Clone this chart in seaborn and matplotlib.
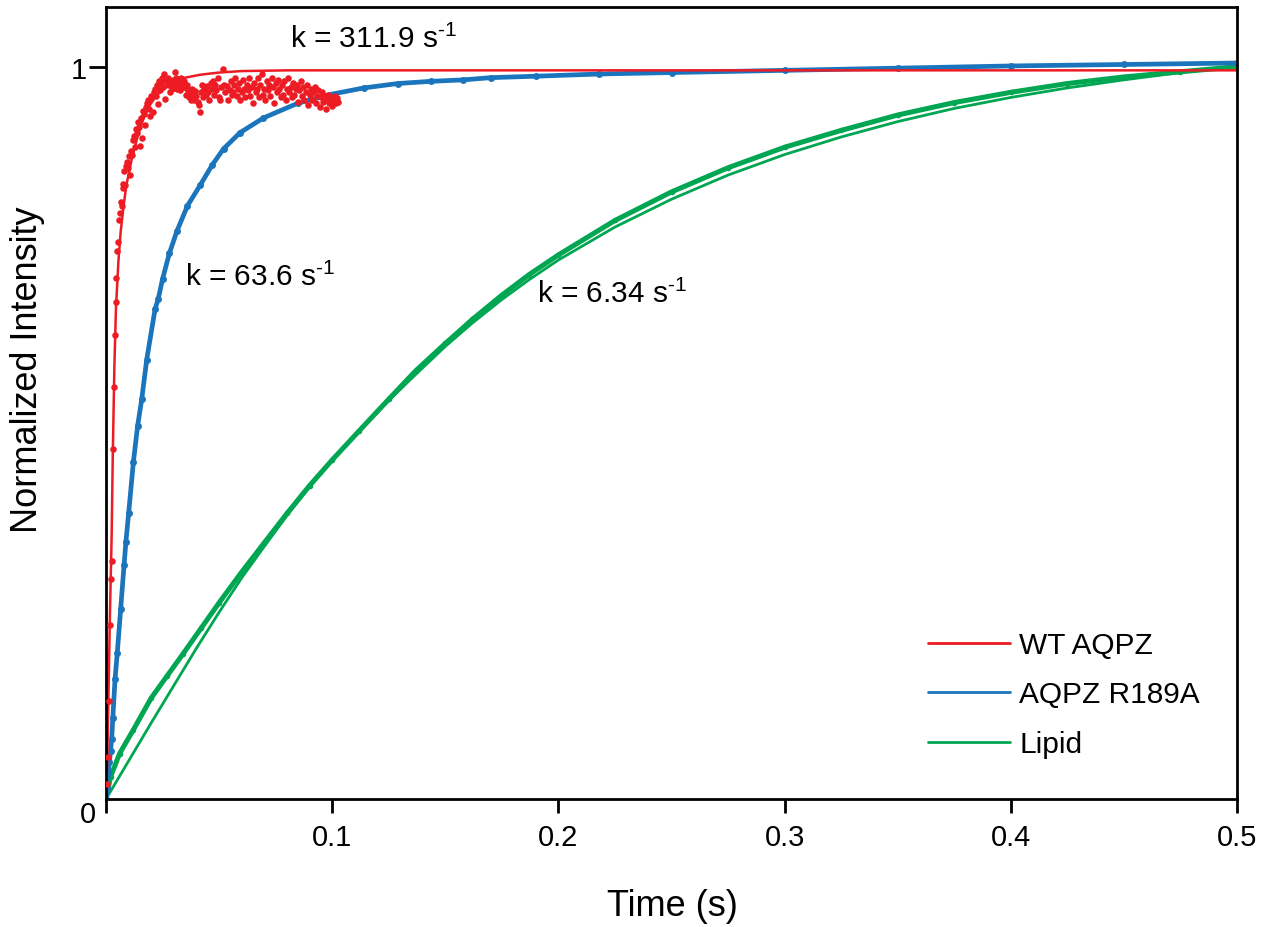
import matplotlib
matplotlib.use("Agg")
import matplotlib.pyplot as plt
from matplotlib.lines import Line2D
import numpy as np
import pandas as pd
import seaborn as sns

# ---------------- data ----------------
red_t = [0.0004, 0.0009, 0.0013, 0.0018, 0.0022, 0.0025, 0.0030, 0.0034, 0.0038, 0.0042,
         0.0045, 0.0050, 0.0054, 0.0058, 0.0062, 0.0066, 0.0069, 0.0073, 0.0077, 0.0080,
         0.0084, 0.0088, 0.0092, 0.0096, 0.0100, 0.0106, 0.0110, 0.0114, 0.0118, 0.0123,
         0.0128, 0.0132, 0.0137, 0.0141, 0.0146, 0.0150, 0.0154, 0.0158, 0.0163, 0.0167,
         0.0172, 0.0176, 0.0181, 0.0185, 0.0190, 0.0195, 0.0199, 0.0204, 0.0208, 0.0213,
         0.0217, 0.0222, 0.0226, 0.0230, 0.0235, 0.0240, 0.0244, 0.0249, 0.0253, 0.0258,
         0.0263, 0.0267, 0.0272, 0.0276, 0.0281, 0.0285, 0.0290, 0.0295, 0.0300, 0.0305,
         0.0310, 0.0314, 0.0318, 0.0323, 0.0328, 0.0333, 0.0337, 0.0342, 0.0347, 0.0352,
         0.0356, 0.0360, 0.0365, 0.0370, 0.0375, 0.0380, 0.0385, 0.0390, 0.0395, 0.0400,
         0.0405, 0.0410, 0.0415, 0.0420, 0.0425, 0.0430, 0.0435, 0.0440, 0.0447, 0.0452,
         0.0457, 0.0462, 0.0467, 0.0473, 0.0478, 0.0483, 0.0488, 0.0493, 0.0498, 0.0504,
         0.0510, 0.0517, 0.0522, 0.0528, 0.0535, 0.0540, 0.0546, 0.0552, 0.0556, 0.0561,
         0.0566, 0.0572, 0.0578, 0.0583, 0.0588, 0.0594, 0.0600, 0.0605, 0.0610, 0.0616,
         0.0622, 0.0628, 0.0633, 0.0638, 0.0644, 0.0650, 0.0655, 0.0661, 0.0666, 0.0672,
         0.0678, 0.0683, 0.0688, 0.0694, 0.0700, 0.0705, 0.0711, 0.0716, 0.0722, 0.0727,
         0.0733, 0.0738, 0.0744, 0.0750, 0.0755, 0.0761, 0.0766, 0.0772, 0.0777, 0.0783,
         0.0788, 0.0794, 0.0800, 0.0805, 0.0811, 0.0816, 0.0822, 0.0827, 0.0833, 0.0838,
         0.0844, 0.0850, 0.0855, 0.0861, 0.0866, 0.0872, 0.0877, 0.0883, 0.0888, 0.0894,
         0.0900, 0.0905, 0.0911, 0.0916, 0.0922, 0.0927, 0.0933, 0.0938, 0.0944, 0.0950,
         0.0955, 0.0961, 0.0966, 0.0972, 0.0977, 0.0983, 0.0988, 0.0994, 0.1000, 0.1005,
         0.1011, 0.1016, 0.1022, 0.1027]
red_v = [0.020, 0.057, 0.134, 0.237, 0.300, 0.325, 0.478, 0.563, 0.634, 0.679,
         0.712, 0.748, 0.760, 0.790, 0.800, 0.815, 0.810, 0.835, 0.840, 0.857,
         0.838, 0.865, 0.870, 0.862, 0.878, 0.852, 0.885, 0.879, 0.900, 0.905,
         0.891, 0.915, 0.910, 0.925, 0.918, 0.892, 0.930, 0.902, 0.940, 0.935,
         0.920, 0.945, 0.950, 0.955, 0.942, 0.932, 0.960, 0.958, 0.938, 0.965,
         0.970, 0.960, 0.975, 0.949, 0.980, 0.968, 0.978, 0.985, 0.972, 0.990,
         0.956, 0.980, 0.975, 0.985, 0.966, 0.978, 0.970, 0.982, 0.975, 0.993,
         0.985, 0.970, 0.981, 0.975, 0.968, 0.985, 0.977, 0.972, 0.980, 0.962,
         0.975, 0.970, 0.958, 0.965, 0.955, 0.970, 0.960, 0.954, 0.967, 0.960,
         0.952, 0.948, 0.938, 0.965, 0.975, 0.958, 0.970, 0.962, 0.973, 0.965,
         0.955, 0.978, 0.970, 0.981, 0.962, 0.975, 0.968, 0.985, 0.958, 0.954,
         0.972, 0.997, 0.975, 0.965, 0.974, 0.955, 0.968, 0.980, 0.962, 0.966,
         0.975, 0.985, 0.960, 0.970, 0.978, 0.955, 0.965, 0.982, 0.970, 0.958,
         0.975, 0.968, 0.985, 0.960, 0.972, 0.950, 0.978, 0.965, 0.970, 0.985,
         0.958, 0.975, 0.990, 0.962, 0.970, 0.955, 0.980, 0.968, 0.975, 0.960,
         0.985, 0.972, 0.950, 0.978, 0.965, 0.982, 0.970, 0.958, 0.975, 0.962,
         0.980, 0.955, 0.970, 0.985, 0.965, 0.972, 0.958, 0.978, 0.962, 0.970,
         0.975, 0.952, 0.968, 0.980, 0.960, 0.972, 0.955, 0.965, 0.975, 0.948,
         0.962, 0.970, 0.955, 0.965, 0.972, 0.950, 0.960, 0.968, 0.945, 0.958,
         0.965, 0.952, 0.960, 0.942, 0.955, 0.962, 0.950, 0.958, 0.946, 0.955,
         0.960, 0.950, 0.957, 0.952]

red_fit_t = [0.0, 0.0006, 0.0012, 0.0018, 0.0025, 0.0030, 0.0037, 0.0044, 0.0055, 0.0065,
             0.0077, 0.0090, 0.0114, 0.0140, 0.0165, 0.0195, 0.0224, 0.0260, 0.0298, 0.0350,
             0.0416, 0.0500, 0.0600, 0.0800, 0.5000]
red_fit_v = [0.0, 0.060, 0.160, 0.260, 0.360, 0.470, 0.590, 0.670, 0.735, 0.775,
             0.808, 0.838, 0.874, 0.905, 0.929, 0.948, 0.961, 0.971, 0.979, 0.985,
             0.989, 0.992, 0.994, 0.995, 0.995]

blue_t = [0.0, 0.0005, 0.001, 0.0015, 0.002, 0.0025, 0.003, 0.004, 0.005, 0.0065,
          0.008, 0.0088, 0.010, 0.0121, 0.014, 0.0158, 0.018, 0.0217, 0.0231, 0.025,
          0.028, 0.0313, 0.036, 0.0416, 0.047, 0.052, 0.0593, 0.0696, 0.0847, 0.099,
          0.114, 0.129, 0.1436, 0.158, 0.170, 0.190, 0.218, 0.250, 0.300, 0.350,
          0.400, 0.450, 0.500]
blue_v = [0.0, 0.015, 0.037, 0.050, 0.066, 0.082, 0.110, 0.164, 0.200, 0.260,
          0.320, 0.351, 0.390, 0.460, 0.510, 0.546, 0.600, 0.669, 0.683, 0.710,
          0.745, 0.775, 0.810, 0.838, 0.866, 0.888, 0.910, 0.930, 0.950, 0.962,
          0.971, 0.977, 0.980, 0.982, 0.985, 0.987, 0.990, 0.992, 0.995, 0.998,
          1.001, 1.003, 1.005]

green_t = [0.0, 0.002, 0.006, 0.012, 0.020, 0.027, 0.034, 0.042, 0.050, 0.060,
           0.070, 0.080, 0.090, 0.100, 0.112, 0.125, 0.137, 0.150, 0.162, 0.175,
           0.187, 0.200, 0.225, 0.250, 0.275, 0.300, 0.325, 0.350, 0.375, 0.400,
           0.425, 0.450, 0.475, 0.500]
green_v = [0.0, 0.030, 0.062, 0.094, 0.138, 0.168, 0.198, 0.233, 0.268, 0.310,
           0.350, 0.390, 0.428, 0.463, 0.503, 0.546, 0.585, 0.622, 0.655, 0.688,
           0.716, 0.743, 0.790, 0.829, 0.862, 0.890, 0.913, 0.934, 0.951, 0.965,
           0.977, 0.986, 0.993, 1.000]

green_fit_t = [0.0, 0.010, 0.020, 0.030, 0.040, 0.050, 0.060, 0.070, 0.080, 0.090,
               0.100, 0.112, 0.125, 0.137, 0.150, 0.162, 0.175, 0.187, 0.200, 0.225,
               0.250, 0.275, 0.300, 0.325, 0.350, 0.375, 0.400, 0.425, 0.450, 0.475,
               0.500]
green_fit_v = [0.0, 0.052, 0.104, 0.155, 0.206, 0.255, 0.302, 0.345, 0.387, 0.426,
               0.462, 0.502, 0.544, 0.580, 0.618, 0.650, 0.682, 0.709, 0.736, 0.781,
               0.819, 0.852, 0.880, 0.904, 0.925, 0.943, 0.958, 0.971, 0.982, 0.992,
               1.000]

series_names = ["WT AQPZ", "AQPZ R189A", "Lipid"]
rate_labels = [r"k = 311.9 s$^{\text{-1}}$", r"k = 63.6 s$^{\text{-1}}$",
               r"k = 6.34 s$^{\text{-1}}$"]
x_ticks = [0.0, 0.1, 0.2, 0.3, 0.4, 0.5]
x_tick_labels = ["", "0.1", "0.2", "0.3", "0.4", "0.5"]

RED, BLUE, GREEN = "#ED1C24", "#1B75BC", "#00A651"

# ---------------- style ----------------
sns.set_theme(style="white")
plt.rcParams["font.family"] = ["Liberation Sans", "DejaVu Sans"]
plt.rcParams["mathtext.fontset"] = "custom"
plt.rcParams["mathtext.rm"] = "Liberation Sans"
plt.rcParams["mathtext.it"] = "Liberation Sans:italic"
plt.rcParams["mathtext.default"] = "regular"
plt.rcParams["text.color"] = "black"
plt.rcParams["axes.labelcolor"] = "black"
plt.rcParams["xtick.color"] = "black"
plt.rcParams["ytick.color"] = "black"

W, H = 1268, 928
fig = plt.figure(figsize=(W / 100, H / 100), dpi=100)
ax = fig.add_axes([106 / W, 1 - 800 / H, (1237 - 106) / W, (800 - 8) / H])

# green
sns.lineplot(x=green_t, y=green_v, ax=ax, color=GREEN, lw=3.6, sort=False,
             estimator=None, marker="o", markersize=4, markeredgewidth=0)
sns.lineplot(x=green_fit_t, y=green_fit_v, ax=ax, color=GREEN, lw=2.0, sort=False,
             estimator=None)
# blue
sns.lineplot(x=blue_t, y=blue_v, ax=ax, color=BLUE, lw=3.4, sort=False,
             estimator=None, marker="o", markersize=5, markeredgewidth=0)
# red
sns.lineplot(x=red_fit_t, y=red_fit_v, ax=ax, color=RED, lw=1.8, sort=False,
             estimator=None)
sns.scatterplot(x=red_t, y=red_v, ax=ax, color=RED, s=22, linewidth=0, zorder=5)

ax.set_xlim(0, 0.5)
ax.set_ylim(0, 1.0815)
ax.set_xticks(x_ticks)
ax.set_xticklabels(x_tick_labels)
ax.set_yticks([1.0])
ax.set_yticklabels(["1"])
ax.tick_params(axis="both", direction="out", length=10, width=2, colors="black",
               labelsize=21, bottom=True, left=True)
ax.tick_params(axis="x", pad=7)
ax.tick_params(axis="y", length=12, pad=2)
for s in ax.spines.values():
    s.set_color("black")
    s.set_linewidth(2)

ax.set_xlabel("")
ax.set_ylabel("")
fig.text(88 / W, 1 - 815 / H, "0", ha="center", va="center", fontsize=21)
fig.text(672 / W, 1 - 907 / H, "Time (s)", ha="center", va="center", fontsize=26)
fig.text(28 / W, 1 - 370 / H, "Normalized Intensity", ha="center", va="center",
         rotation=90, fontsize=26)

ax.text(0.0813, 1.038, rate_labels[0], fontsize=21.5, va="center", ha="left")
ax.text(0.0349, 0.713, rate_labels[1], fontsize=21.5, va="center", ha="left")
ax.text(0.1905, 0.690, rate_labels[2], fontsize=21.5, va="center", ha="left")

handles = [Line2D([], [], color=c, lw=2) for c in (RED, BLUE, GREEN)]
fig.legend(handles, series_names, loc="upper left",
           bbox_to_anchor=(928 / W, 1 - 632 / H), bbox_transform=fig.transFigure,
           frameon=False, fontsize=21.5, handlelength=2.75, handletextpad=0.3,
           labelspacing=0.72, borderpad=0, borderaxespad=0)

fig.savefig("out.png", dpi=100)
